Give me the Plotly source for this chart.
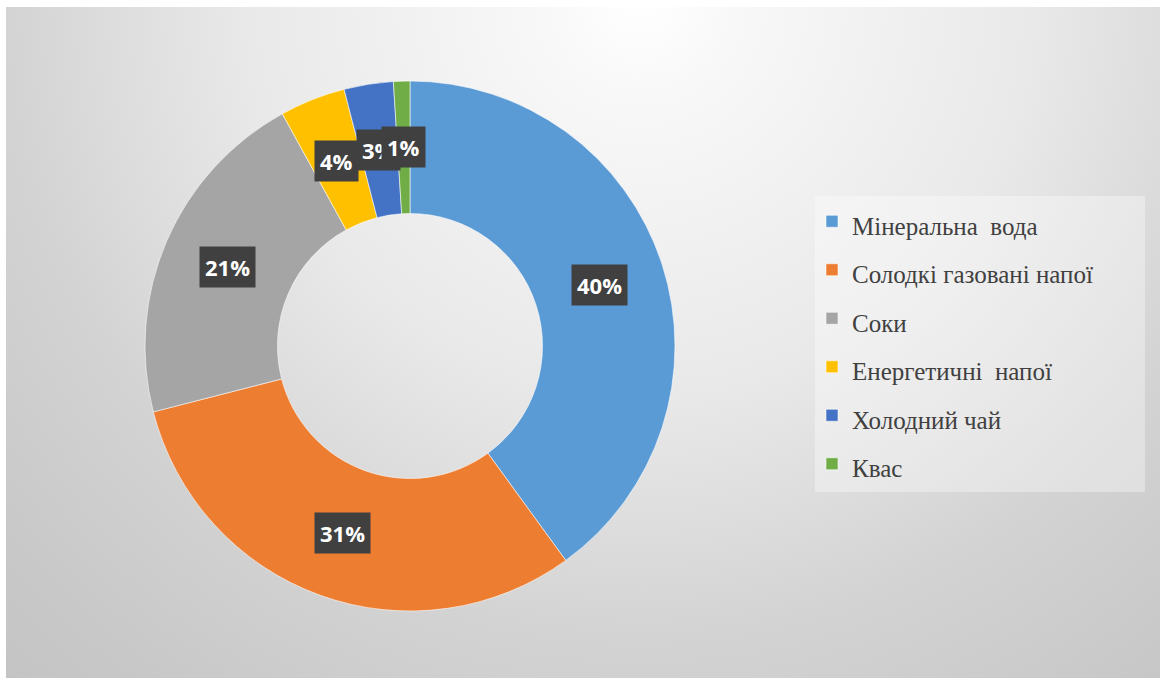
import math
import base64
import plotly.graph_objects as go

# ---- data ----
categories = ["Мінеральна  вода", "Солодкі газовані напої", "Соки",
              "Енергетичні  напої", "Холодний чай", "Квас"]
values = [40, 31, 21, 4, 3, 1]
colors = ["#5B9BD5", "#ED7D31", "#A5A5A5", "#FFC000", "#4472C4", "#70AD47"]

W, H = 1160, 678
CX, CY, R = 410, 346, 265      # donut centre / radius in px
HOLE = 0.5

# ---- background (radial gradient, like the Office chart area) ----
svg = f'''<svg xmlns="http://www.w3.org/2000/svg" width="{W}" height="{H}" viewBox="0 0 {W} {H}">
<defs><radialGradient id="g" gradientUnits="userSpaceOnUse" cx="640" cy="0" r="980">
<stop offset="0" stop-color="#ffffff"/>
<stop offset="0.1" stop-color="#f8f8f8"/>
<stop offset="0.4" stop-color="#e9e9e9"/>
<stop offset="0.55" stop-color="#dcdcdc"/>
<stop offset="0.65" stop-color="#d3d3d3"/>
<stop offset="0.85" stop-color="#c8c8c8"/>
<stop offset="1" stop-color="#c2c2c2"/>
</radialGradient></defs>
<rect x="0" y="0" width="{W}" height="{H}" fill="#ffffff"/>
<rect x="6" y="7" width="{W-6}" height="{H-7}" fill="url(#g)"/>
</svg>'''
bg_src = "data:image/svg+xml;base64," + base64.b64encode(svg.encode("utf-8")).decode()

legend_labels = [f'<span style="font-size:25px">{c}</span>' for c in categories]

fig = go.Figure(go.Pie(
    labels=legend_labels,
    values=values,
    marker=dict(colors=colors, line=dict(color="rgba(255,255,255,0.7)", width=0.8)),
    hole=HOLE,
    sort=False,
    direction="clockwise",
    rotation=0,
    textinfo="none",
    hoverinfo="skip",
    domain=dict(x=[(CX - R) / W, (CX + R) / W],
                y=[1 - (CY + R) / H, 1 - (CY - R) / H]),
))

# ---- data labels (dark boxes at the middle of the ring) ----
total = sum(values)
r_mid = R * (1 + HOLE) / 2
annotations = []
cum = 0
for v in values:
    mid = (cum + v / 2) / total
    cum += v
    th = 2 * math.pi * mid
    px = CX + r_mid * math.sin(th)
    py = CY - r_mid * math.cos(th)
    annotations.append(dict(
        x=px / W, y=1 - py / H, xref="paper", yref="paper",
        text=f"{v / total * 100:.0f}%", showarrow=False,
        font=dict(family="Open Sans", size=22, color="#ffffff", weight="bold"),
        bgcolor="#404040", borderpad=5, xanchor="center", yanchor="middle",
    ))

fig.update_layout(
    width=W, height=H,
    margin=dict(l=0, r=0, t=0, b=0),
    paper_bgcolor="#ffffff",
    plot_bgcolor="rgba(0,0,0,0)",
    images=[dict(source=bg_src, xref="paper", yref="paper", x=0, y=1,
                 sizex=1, sizey=1, sizing="stretch", layer="below",
                 xanchor="left", yanchor="top")],
    shapes=[dict(type="rect", xref="paper", yref="paper",
                 x0=815 / W, x1=1145 / W, y0=1 - 492 / H, y1=1 - 196 / H,
                 fillcolor="rgba(255,255,255,0.35)", line=dict(width=0),
                 layer="below")],
    annotations=annotations,
    showlegend=True,
    legend=dict(
        x=812 / W, y=1 - 192 / H, xanchor="left", yanchor="top",
        font=dict(family="Liberation Serif", size=35, color="#404040"),
        bgcolor="rgba(0,0,0,0)",
        borderwidth=0,
        itemclick=False, itemdoubleclick=False,
    ),
)

fig.write_html("out.html")
